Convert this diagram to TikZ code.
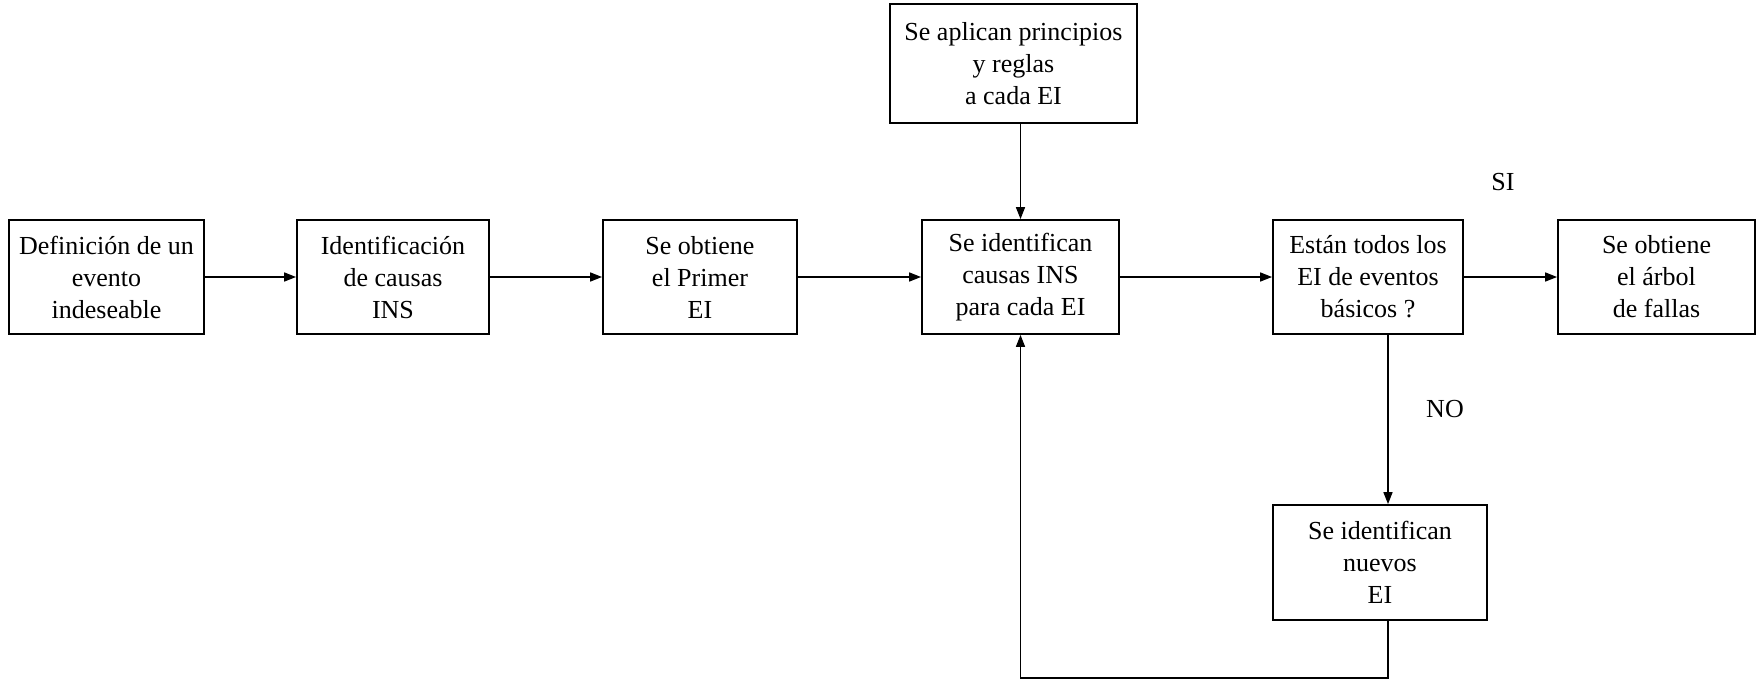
\documentclass[tikz,border=0pt]{standalone}
\usepackage{fontspec}
\setmainfont{Liberation Serif}
\usetikzlibrary{arrows.meta,calc}
\begin{document}
\begin{tikzpicture}[x=1pt,y=-1pt,
  box/.style={draw,line width=1.8pt,align=center,inner sep=0pt,font=\fontsize{26}{32}\selectfont},
  arr/.style={line width=1.6pt,-{Triangle[length=12pt,width=9pt]}},
  lbl/.style={font=\fontsize{26}{32}\selectfont}]
\useasboundingbox[fill=white] (0,0) rectangle (1764,680);
\node[box,minimum width=195pt,minimum height=114pt] (b1) at (106.5,277) {Definición de un\\evento\\indeseable};
\node[box,minimum width=192pt,minimum height=114pt] (b2) at (393,277) {Identificación\\de causas\\INS};
\node[box,minimum width=194pt,minimum height=114pt] (b3) at (700,277) {Se obtiene\\el Primer\\EI};
\node[box,minimum width=197pt,minimum height=114pt] (b4) at (1020.5,277) {Se identifican\\causas INS\\para cada EI};
\node[box,minimum width=190pt,minimum height=114pt] (b5) at (1368,277) {Están todos los\\EI de eventos\\básicos ?};
\node[box,minimum width=197pt,minimum height=114pt] (b6) at (1656.5,277) {Se obtiene\\el árbol\\de fallas};
\node[box,minimum width=247pt,minimum height=119pt] (top) at (1013.5,63.5) {Se aplican principios\\y reglas\\a cada EI};
\node[box,minimum width=214pt,minimum height=115pt] (bot) at (1380,562.5) {Se identifican\\nuevos\\EI};
\node[lbl] (si) at (1503,182) {SI};
\node[lbl] (no) at (1445,409) {NO};
\coordinate (dn) at ($(bot.north)+(8,0)$);
\coordinate (up) at ($(bot.south)+(8,0)$);
\draw[arr] (b1) -- (b2);
\draw[arr] (b2) -- (b3);
\draw[arr] (b3) -- (b4);
\draw[arr] (b4) -- (b5);
\draw[arr] (b5) -- (b6);
\draw[arr] (top.south -| b4.north) -- (b4.north);
\draw[arr] (b5.south -| dn) -- (dn);
\draw[arr] (up) -- ++(0,57) -| (b4.south);
\end{tikzpicture}
\end{document}
